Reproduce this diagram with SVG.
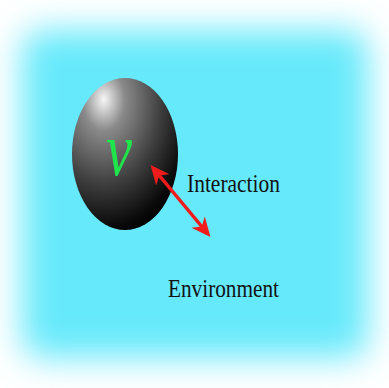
<svg xmlns="http://www.w3.org/2000/svg" width="389" height="388" viewBox="0 0 389 388">
  <defs>
    <filter id="soft" x="-20%" y="-20%" width="140%" height="140%">
      <feGaussianBlur stdDeviation="17"/>
    </filter>
    <radialGradient id="ball" cx="0.3" cy="0.17" r="0.9" fx="0.3" fy="0.14">
      <stop offset="0" stop-color="#f6f6f6"/>
      <stop offset="0.22" stop-color="#8a8a8a"/>
      <stop offset="0.6" stop-color="#3e3e3e"/>
      <stop offset="0.9" stop-color="#0a0a0a"/>
      <stop offset="1" stop-color="#000000"/>
    </radialGradient>
    <marker id="head" viewBox="0 0 10 10" refX="8" refY="5" markerWidth="5.5" markerHeight="5.5" orient="auto-start-reverse" markerUnits="strokeWidth">
      <path d="M0,0.5 L10,5 L0,9.5 L3,5 Z" fill="#f01c1c"/>
    </marker>
    <style>
      .label { font-family: "Liberation Serif", "DejaVu Serif", serif; font-size: 25px; fill: #111; }
      .nu { font-family: "Liberation Serif", "DejaVu Serif", serif; font-style: italic; font-size: 76px; fill: #1ee64a; }
      .link { stroke: #f01c1c; stroke-width: 3.5; fill: none; }
    </style>
  </defs>

  <rect width="389" height="388" fill="#ffffff"/>
  <!-- soft-edged environment field -->
  <rect x="22" y="30" width="346" height="328" rx="20" fill="#66e9fb" filter="url(#soft)"/>

  <g id="neutrino">
    <ellipse cx="125" cy="154" rx="53" ry="76" fill="url(#ball)"/>
    <text class="nu" x="106" y="175" textLength="26" lengthAdjust="spacingAndGlyphs">ν</text>
  </g>

  <g id="interaction-label">
    <text class="label" x="187" y="192" textLength="93" lengthAdjust="spacingAndGlyphs">Interaction</text>
  </g>

  <g id="environment-label">
    <text class="label" x="168" y="297" textLength="111" lengthAdjust="spacingAndGlyphs">Environment</text>
  </g>

  <g id="connectors">
    <line class="link" x1="153" y1="168" x2="208" y2="234" marker-start="url(#head)" marker-end="url(#head)"/>
  </g>
</svg>
